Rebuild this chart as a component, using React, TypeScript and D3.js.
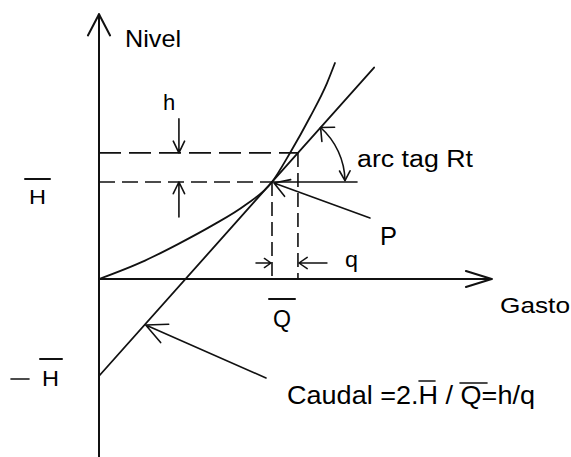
import React from "react";
import * as d3 from "d3";

// Data (Gasto Q vs Nivel H), in units of Q̄ and H̄
const curveQ = [0, 0.266, 0.457, 0.653, 0.844, 1, 1.104, 1.22, 1.318, 1.364];
const curveH = [0, 0.19, 0.36, 0.55, 0.76, 1, 1.299, 1.67, 2.02, 2.227];
const tangentQ = [0, 1.59];
const tangentH = [-1, 2.18];
const Pq = [1]; // Q̄
const Ph = [1]; // H̄
const dq = [0.15]; // q
const dh = [0.3]; // h
const xExtent = [0, 2.27];
const yExtent = [-1.84, 2.73];

const W = 571;
const H = 457;
const FONT = "'Liberation Sans', Arial, Helvetica, sans-serif";

function head(tx: number, ty: number, angle: number, len: number, spread: number) {
  const a1 = angle + Math.PI - spread;
  const a2 = angle + Math.PI + spread;
  return `M${tx + len * Math.cos(a1)},${ty + len * Math.sin(a1)}L${tx},${ty}L${tx + len * Math.cos(a2)},${ty + len * Math.sin(a2)}`;
}

function arrow(x1: number, y1: number, x2: number, y2: number, len: number, spread: number) {
  const a = Math.atan2(y2 - y1, x2 - x1);
  return `M${x1},${y1}L${x2},${y2}` + head(x2, y2, a, len, spread);
}

export default function App() {
  const x = d3.scaleLinear().domain([0, 1]).range([99, 272]);
  const y = d3.scaleLinear().domain([0, 1]).range([279, 182]);

  const curvePts: [number, number][] = curveQ.map((q, i) => [x(q), y(curveH[i])]);
  const curvePath = d3.line().curve(d3.curveMonotoneX)(curvePts) || "";
  const tanPath = d3.line()(tangentQ.map((q, i) => [x(q), y(tangentH[i])] as [number, number])) || "";

  const px = x(Pq[0]);
  const py = y(Ph[0]);
  const qx = x(Pq[0] + dq[0]);
  const hy = y(Ph[0] + dh[0]);
  const x0 = x(0);
  const y0 = y(0);

  // arc for angle
  const r = 73;
  const a0 = -Math.atan2(py - y(tangentH[1]), x(tangentQ[1]) - px);
  const arcP = d3.path();
  arcP.arc(px, py, r, a0, -0.02, false);
  const sx = px + r * Math.cos(a0);
  const sy = py + r * Math.sin(a0);
  const ex = px + r * Math.cos(-0.02);
  const ey = py + r * Math.sin(-0.02);

  const stroke = "#111";
  const arrowX = x(0.462);

  return (
    <svg
      width={W}
      height={H}
      style={{ position: "fixed", left: 0, top: 0, background: "#fff" }}
      fontFamily={FONT}
    >
      <rect width={W} height={H} fill="#fff" />
      <g fill="none" stroke={stroke} strokeLinecap="round" strokeLinejoin="round">
        {/* axes */}
        <path d={`M${x0},${y(yExtent[0])}L${x0},${y(yExtent[1])}`} strokeWidth={2} />
        <path d={head(x0, y(yExtent[1]), -Math.PI / 2, 24, 0.48)} strokeWidth={2} />
        <path d={`M${x0},${y0}L${x(xExtent[1])},${y0}`} strokeWidth={2} />
        <path d={head(x(xExtent[1]), y0, 0, 27, 0.3)} strokeWidth={2} />

        {/* curve and tangent */}
        <path d={curvePath} strokeWidth={1.8} />
        <path d={tanPath} strokeWidth={1.8} />

        {/* dashed guides */}
        <path d={`M${x0},${hy}L${qx},${hy}`} strokeWidth={1.6} strokeDasharray="22 8" strokeLinecap="butt" />
        <path d={`M${x0},${py}L${px},${py}`} strokeWidth={1.6} strokeDasharray="16 7" strokeLinecap="butt" />
        <path d={`M${px},${py}L${px + 85},${py}`} strokeWidth={1.6} />
        <path d={`M${px},${py}L${px},${y0}`} strokeWidth={1.6} strokeDasharray="14 6" strokeLinecap="butt" />
        <path d={`M${qx},${hy}L${qx},${y0}`} strokeWidth={1.6} strokeDasharray="14 6" strokeLinecap="butt" />

        {/* h arrows */}
        <path d={arrow(arrowX, hy - 34, arrowX, hy, 13, 0.45)} strokeWidth={1.6} />
        <path d={arrow(arrowX, py + 35, arrowX, py, 13, 0.45)} strokeWidth={1.6} />

        {/* q arrows */}
        <path d={arrow(px - 16, y0 - 16, px - 1, y0 - 16, 8, 0.6)} strokeWidth={1.5} />
        <path d={arrow(qx + 29, y0 - 16, qx + 1, y0 - 16, 10, 0.6)} strokeWidth={1.5} />

        {/* P pointer */}
        <path d={arrow(370, 218, px + 2, py + 1, 17, 0.55)} strokeWidth={1.6} />

        {/* Caudal pointer */}
        <path d={arrow(266, 378, x(0.27), y(-0.475), 23, 0.45)} strokeWidth={1.6} />

        {/* angle arc */}
        <path d={arcP.toString()} strokeWidth={1.6} />
        <path d={head(sx, sy, a0 - Math.PI / 2, 14, 0.75)} strokeWidth={1.6} />
        <path d={head(ex, ey, -0.02 + Math.PI / 2, 11, 0.5)} strokeWidth={1.6} />

        {/* overbars */}
        <path d="M25,179L50,179" strokeWidth={2} />
        <path d="M40,359L62,359" strokeWidth={2} />
        <path d="M11,379L29,379" strokeWidth={1.6} />
        <path d="M269,299L295,299" strokeWidth={2} />
        <path d="M419,381L435,381" strokeWidth={1.6} />
        <path d="M460,383L487,383" strokeWidth={1.6} />
      </g>

      <g fill="#000" fontSize={24}>
        <text x={125} y={47} textLength={56} lengthAdjust="spacingAndGlyphs">Nivel</text>
        <text x={163} y={110} fontSize={22}>h</text>
        <text x={29} y={204} fontSize={21} textLength={17} lengthAdjust="spacingAndGlyphs">H</text>
        <text x={42} y={386} fontSize={22} textLength={17} lengthAdjust="spacingAndGlyphs">H</text>
        <text x={357} y={167} fontSize={23} textLength={116} lengthAdjust="spacingAndGlyphs">arc tag Rt</text>
        <text x={380} y={245} fontSize={25} textLength={17} lengthAdjust="spacingAndGlyphs">P</text>
        <text x={345} y={267} fontSize={22} textLength={13} lengthAdjust="spacingAndGlyphs">q</text>
        <text x={273} y={327} fontSize={24} textLength={18} lengthAdjust="spacingAndGlyphs">Q</text>
        <text x={500} y={313} fontSize={22} textLength={70} lengthAdjust="spacingAndGlyphs">Gasto</text>
        <text x={287} y={404} fontSize={25} textLength={248} lengthAdjust="spacingAndGlyphs">Caudal =2.H / Q=h/q</text>
      </g>
    </svg>
  );
}
